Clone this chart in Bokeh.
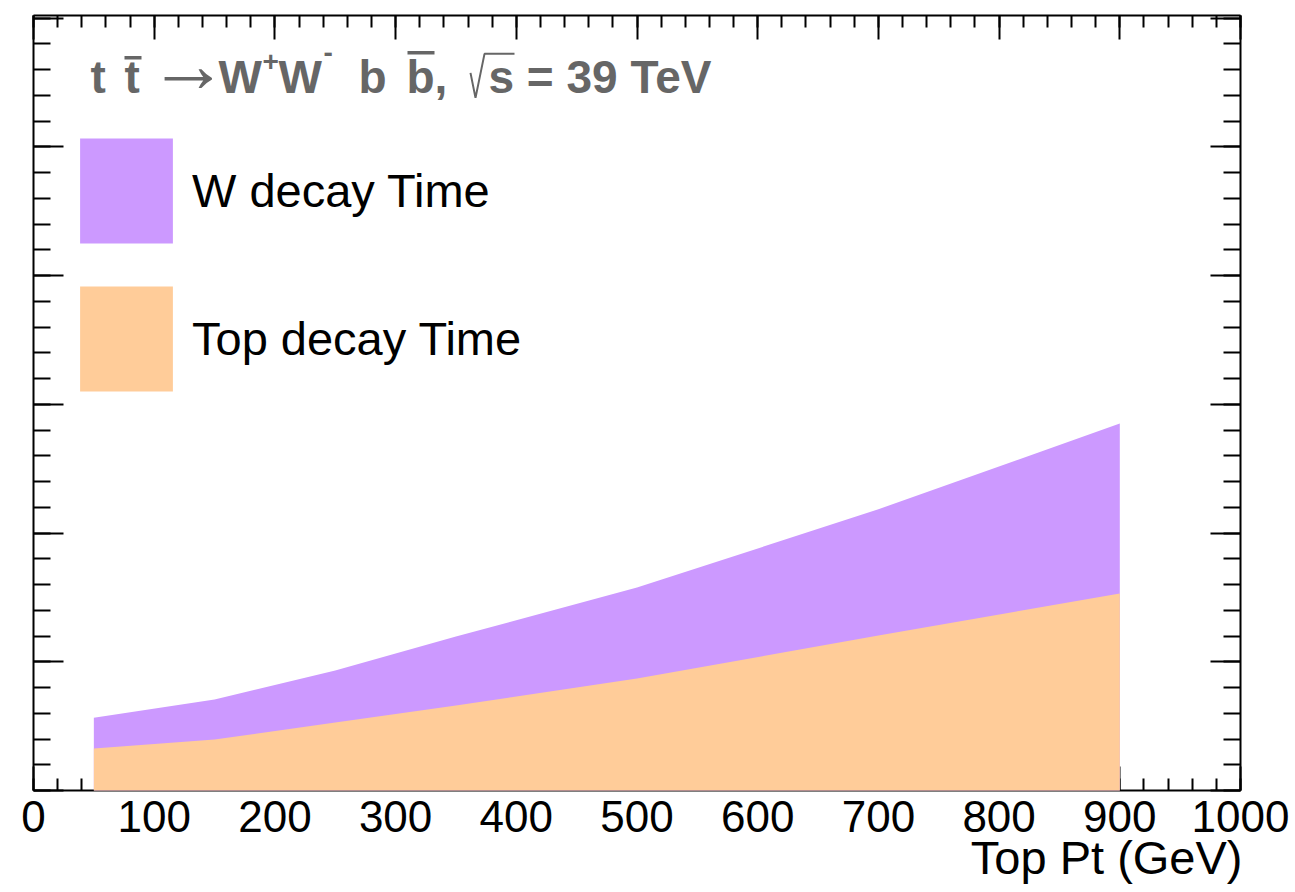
from bokeh.plotting import figure
from bokeh.models import (Range1d, LinearAxis, SingleIntervalTicker, Label, Legend,
                          LegendItem, ColumnDataSource, CustomLabelingPolicy, Title)
from bokeh.embed import file_html
from bokeh.resources import INLINE

# ---------------- data ----------------
top_pt = [50, 150, 250, 350, 500, 700, 900]
w_decay_time = [0.283, 0.353, 0.466, 0.598, 0.788, 1.092, 1.425]
top_decay_time = [0.163, 0.198, 0.264, 0.330, 0.435, 0.602, 0.765]
x_ticks_interval = 100
y_ticks_interval = 0.5

title_color = "#666666"
w_color = "#cc99ff"
top_color = "#ffcc99"

# ---------------- figure ----------------
W, H = 1295, 892
p = figure(width=W, height=H, output_backend="svg", toolbar_location=None,
           x_range=Range1d(0, 1000), y_range=Range1d(0, 3.01),
           min_border_left=33, min_border_right=55, min_border_top=15,
           min_border_bottom=102, x_axis_location=None, y_axis_location=None)
p.outline_line_color = None
p.xgrid.visible = False
p.ygrid.visible = False
p.background_fill_color = "white"
p.border_fill_color = "white"

# helpers: reference pixel -> data coordinates (for text placement only)
def FX(px):
    return (px - 33) * 1000.0 / 1207.0

def FY(py):
    return (790 - py) * 0.5 / 128.8

BASE = 0.36  # alphabetic baseline correction (fraction of font size)

src = ColumnDataSource(dict(x=top_pt, w=w_decay_time, t=top_decay_time))
r_w = p.varea(x="x", y1=0, y2="w", source=src, fill_color=w_color, fill_alpha=1.0)
r_t = p.varea(x="x", y1=0, y2="t", source=src, fill_color=top_color, fill_alpha=1.0)
r_w.level = "annotation"
r_t.level = "annotation"

no_labels = CustomLabelingPolicy(code="""
try { return new Indices(indices.size) } catch (e) {
  try { for (let i = 0; i < indices.size; i++) { indices.unset(i) } } catch (e2) {}
  return indices
}
""")

def style_axis(ax, major_in, minor_in, labels=True):
    ax.axis_line_width = 2
    ax.axis_line_color = "black"
    ax.major_tick_in = major_in
    ax.major_tick_out = 0
    ax.minor_tick_in = minor_in
    ax.minor_tick_out = 0
    ax.major_tick_line_width = 2
    ax.minor_tick_line_width = 2
    ax.major_tick_line_color = "black"
    ax.minor_tick_line_color = "black"
    if labels:
        ax.major_label_text_font = "Liberation Sans"
        ax.major_label_text_font_size = "44px"
        ax.major_label_text_color = "black"
        ax.major_label_standoff = 10
    else:
        ax.major_label_policy = no_labels
        ax.major_label_text_font_size = "1px"
        ax.major_label_text_alpha = 0
        ax.major_label_standoff = 0
    ax.axis_label = None

xb = LinearAxis(ticker=SingleIntervalTicker(interval=x_ticks_interval, num_minor_ticks=5))
style_axis(xb, 24, 12, labels=True)
p.add_layout(xb, "below")
xt = LinearAxis(ticker=SingleIntervalTicker(interval=x_ticks_interval, num_minor_ticks=5))
style_axis(xt, 24, 12, labels=False)
p.add_layout(xt, "above")
yl = LinearAxis(ticker=SingleIntervalTicker(interval=y_ticks_interval, num_minor_ticks=5))
style_axis(yl, 30, 17, labels=False)
p.add_layout(yl, "left")
yr = LinearAxis(ticker=SingleIntervalTicker(interval=y_ticks_interval, num_minor_ticks=5))
style_axis(yr, 30, 17, labels=False)
p.add_layout(yr, "right")

# x-axis title (right aligned under the axis)
p.add_layout(Title(text="Top Pt (GeV)", align="right", text_font="Liberation Sans",
                   text_font_size="47px", text_font_style="normal", text_color="black",
                   standoff=-12, offset=-2), "below")

# legend (area legend glyphs are inset by 10% on each side)
legend = Legend(items=[LegendItem(label="W decay Time", renderers=[r_w]),
                       LegendItem(label="Top decay Time", renderers=[r_t])],
                location=(35, 386), glyph_width=116, glyph_height=131, spacing=17,
                padding=0, margin=0, label_standoff=8,
                label_text_font="Liberation Sans", label_text_font_size="47px",
                label_text_color="black", border_line_alpha=0,
                background_fill_alpha=0)
p.add_layout(legend, "center")

# process title
def tlabel(px, py, text, size=46, bold=True, font="Liberation Sans", baseline="alphabetic"):
    yy = py - BASE * size if baseline == "alphabetic" else py
    p.add_layout(Label(x=FX(px), y=FY(yy), text=text, text_align="left",
                       text_baseline=baseline, text_font=font,
                       text_font_size=f"{size}px", text_color=title_color,
                       text_font_style="bold" if bold else "normal"))

tlabel(90, 93, "t")
tlabel(124, 93, "t")
tlabel(148, 64, "→", size=80, bold=False, baseline="middle")
tlabel(218, 93, "W")
tlabel(262, 71, "+", size=28)
tlabel(278, 93, "W")
tlabel(323, 62, "-", size=28)
tlabel(358, 93, "b")
tlabel(406, 93, "b,")
tlabel(488, 93, "s = 39 TeV")

# overlines (t-bar, b-bar) and the square-root sign, drawn as strokes like ROOT's TLatex
bars_x0 = [FX(124), FX(407)]
bars_x1 = [FX(141), FX(434)]
bars_y = [FY(57), FY(52)]
for a, b, c in zip(bars_x0, bars_x1, bars_y):
    p.segment(x0=[a], y0=[c], x1=[b], y1=[c], line_color=title_color, line_width=3.5)
sqrt_px = [470, 475, 484, 514]
sqrt_py = [72, 97, 53, 53]
p.line(x=[FX(v) for v in sqrt_px], y=[FY(v) for v in sqrt_py], line_color=title_color,
       line_width=2)

open("out.html", "w").write(file_html(p, INLINE))
